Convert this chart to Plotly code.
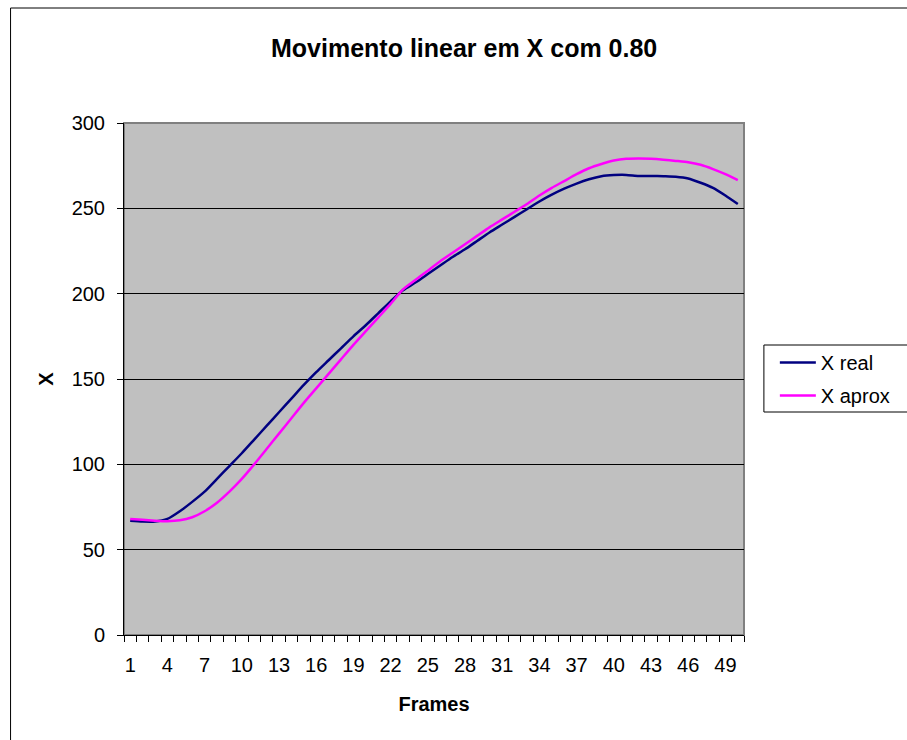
import plotly.graph_objects as go

# ---- data ----
frames = list(range(1, 51))
x_real = [67, 66.5, 66.5, 68, 72.5, 78, 84, 91.5, 99, 106.5,
          114.5, 122.5, 130.5, 138.5, 146.5, 154, 161, 168, 175, 181.5,
          188.5, 195.5, 202, 206.5, 211.5, 216.5, 221.5, 226, 231, 236,
          240.5, 245, 249.5, 254, 258, 261.5, 264.5, 267, 268.8, 269.5,
          269.6, 269, 269, 268.8, 268.5, 267.5, 265, 262, 257.5, 252.5]
x_aprox = [68, 67.5, 67, 66.7, 67.2, 69, 72.5, 77.5, 84, 91.5,
           100, 109, 118, 127, 136, 144.5, 153, 161.5, 170, 178,
           186, 194, 202.5, 208, 213.5, 219, 224, 229, 234, 239,
           243.5, 248, 252.5, 257.5, 262, 266, 270, 273.5, 276, 278,
           279, 279.2, 279, 278.5, 277.8, 277, 275.5, 273, 270, 266.5]
series_names = ["X real", "X aprox"]
series_colors = ["#000080", "#FF00FF"]
x_tick_vals = list(range(1, 51, 3))
x_tick_text = [str(v) for v in x_tick_vals]
x_minor_vals = [v + 0.5 for v in range(0, 51)]
y_tick_vals = [0, 50, 100, 150, 200, 250, 300]

title_text = "Movimento linear em X com 0.80"
x_title = "Frames"
y_title = "X"

FONT = "Arial, 'Liberation Sans', sans-serif"

W, H = 907, 740
ML, MR, MT, MB = 124, 160, 123, 105
PW = W - ML - MR
PH = H - MT - MB


def px_x(p):
    return (p - ML) / PW


def px_y(p):
    return (H - MB - p) / PH


fig = go.Figure()
for name, vals, col, grp in zip(series_names, [x_real, x_aprox], series_colors, ["a", "b"]):
    fig.add_trace(go.Scatter(x=frames, y=vals, mode="lines", name=name,
                             legendgroup=grp,
                             line=dict(color=col, width=2.5, shape="spline", smoothing=0.6)))

fig.update_layout(
    width=W, height=H,
    margin=dict(l=ML, r=MR, t=MT, b=MB, pad=0),
    paper_bgcolor="white",
    plot_bgcolor="#C0C0C0",
    font=dict(family=FONT, size=20, color="black"),
    showlegend=True,
    legend=dict(x=px_x(778), y=px_y(343), xanchor="left", yanchor="top",
                bgcolor="rgba(0,0,0,0)", borderwidth=0,
                font=dict(family=FONT, size=20, color="black"),
                traceorder="grouped", tracegroupgap=4, itemwidth=36),
    annotations=[dict(text="<b>" + title_text + "</b>", xref="paper", yref="paper",
                      x=px_x(466), y=px_y(48), xanchor="center", yanchor="middle",
                      showarrow=False, font=dict(family=FONT, size=25, color="black"))],
    shapes=[
        # outer chart frame
        dict(type="rect", xref="paper", yref="paper",
             x0=px_x(10), x1=px_x(930), y0=px_y(760), y1=px_y(8),
             line=dict(color="black", width=1), fillcolor="rgba(0,0,0,0)", layer="below"),
        # plot area border (gray)
        dict(type="rect", xref="x domain", yref="y domain", x0=0, x1=1, y0=0, y1=1,
             line=dict(color="#808080", width=2), fillcolor="rgba(0,0,0,0)", layer="below"),
        # legend box
        dict(type="rect", xref="paper", yref="paper",
             x0=px_x(767), x1=px_x(930), y0=px_y(412), y1=px_y(345),
             line=dict(color="black", width=1), fillcolor="white", layer="below"),
    ],
)

fig.update_xaxes(
    range=[0.5, 50.5], tickmode="array", tickvals=x_tick_vals, ticktext=x_tick_text,
    ticks="", showgrid=False, zeroline=False,
    showline=True, linecolor="black", linewidth=1,
    tickfont=dict(family=FONT, size=20, color="black"),
    ticklabelstandoff=12,
    minor=dict(tickmode="array", tickvals=x_minor_vals, ticks="outside",
               ticklen=6, tickcolor="black", tickwidth=1, showgrid=False),
    title=dict(text="<b>" + x_title + "</b>", font=dict(family=FONT, size=20, color="black"),
               standoff=21),
)
fig.update_yaxes(
    range=[0, 300], tickmode="array", tickvals=y_tick_vals,
    ticks="outside", ticklen=6, tickcolor="black", tickwidth=1,
    showgrid=True, gridcolor="black", gridwidth=1, zeroline=False,
    showline=True, linecolor="black", linewidth=1,
    tickfont=dict(family=FONT, size=20, color="black"),
    ticklabelstandoff=8,
    title=dict(text="<b>" + y_title + "</b>", font=dict(family=FONT, size=20, color="black"),
               standoff=12),
)

fig.write_html("out.html")
